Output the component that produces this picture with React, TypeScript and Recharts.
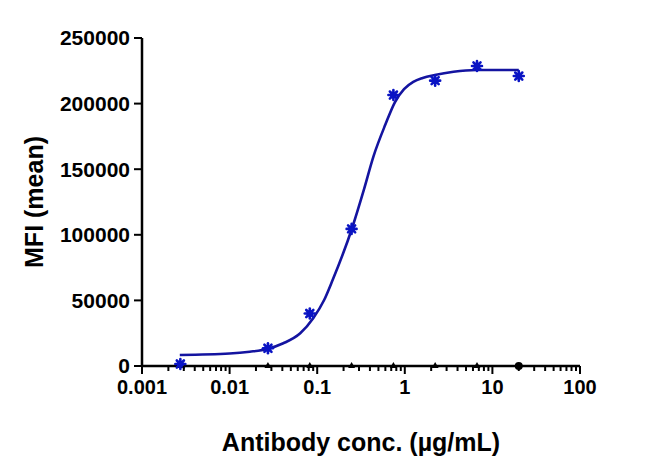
import React from 'react';
import {
  ComposedChart,
  Line,
  Scatter,
  XAxis,
  YAxis,
  Label,
} from 'recharts';

// measured points (3-fold dilutions from 20 µg/mL)
const conc = [0.00274, 0.0274, 0.0823, 0.247, 0.741, 2.22, 6.67, 20];
const mfi = [1500, 13500, 40000, 104500, 206500, 217500, 228700, 221000];
// isotype / blank control, all on the baseline
const controlMfi = [0, 0, 0, 0, 0, 0, 0, 0];

// fitted curve
const fitConc = [0.0027, 0.01, 0.017, 0.027, 0.041, 0.064, 0.09, 0.12, 0.15, 0.25, 0.34, 0.44, 0.6, 0.77, 0.98, 1.25, 1.6, 2.2, 3.6, 6.6, 20];
const fitMfi = [8400, 9500, 10900, 13000, 17300, 24900, 36400, 50300, 65500, 105000, 134000, 160000, 184000, 201000, 211000, 216500, 219500, 221800, 224300, 225600, 225600];

const majorTicks = [0.001, 0.01, 0.1, 1, 10, 100];
const minorSteps = [2, 3, 4, 5, 6, 7, 8, 9];
const yTicks = [0, 50000, 100000, 150000, 200000, 250000];

const FONT = '"Liberation Sans", Arial, sans-serif';
const TICK_SIZE = 8;
const TICK_MARGIN = 6;

const xTicks: number[] = [];
majorTicks.forEach((t, i) => {
  xTicks.push(t);
  if (i < majorTicks.length - 1) minorSteps.forEach(m => xTicks.push(+(t * m).toPrecision(3)));
});

const points = conc.map((c, i) => ({ x: c, y: mfi[i] }));
const control = conc.map((c, i) => ({ x: c, y: controlMfi[i], last: i === conc.length - 1 }));
const fit = fitConc.map((c, i) => ({ x: c, y: fitMfi[i] }));

const isMajor = (v: number) => {
  const l = Math.log10(v);
  return Math.abs(l - Math.round(l)) < 1e-6;
};

const fmtX = (v: number) => {
  const e = Math.round(Math.log10(v));
  return e < 0 ? v.toFixed(-e) : String(v);
};

const XTick = ({ x, y, payload }: any) => {
  const v = payload.value;
  const axisY = y - TICK_SIZE - TICK_MARGIN;
  const major = isMajor(v);
  return (
    <g>
      <line x1={x} x2={x} y1={axisY} y2={axisY + (major ? 8 : 5)} stroke="#000" strokeWidth={2} />
      {major && (
        <text x={x} y={y} dy="0.71em" textAnchor="middle" fontFamily={FONT} fontWeight="bold" fontSize={20} fill="#000">
          {fmtX(v)}
        </text>
      )}
    </g>
  );
};

const Asterisk = ({ cx, cy }: any) => {
  const r = 5;
  const d = r * 0.7071;
  return (
    <g stroke="#0a14c4" strokeWidth={2.6} strokeLinecap="round">
      <circle cx={cx} cy={cy} r={3.4} fill="#0a14c4" stroke="none" />
      <line x1={cx - r} y1={cy} x2={cx + r} y2={cy} />
      <line x1={cx} y1={cy - r} x2={cx} y2={cy + r} />
      <line x1={cx - d} y1={cy - d} x2={cx + d} y2={cy + d} />
      <line x1={cx - d} y1={cy + d} x2={cx + d} y2={cy - d} />
    </g>
  );
};

const ControlMark = ({ cx, cy, payload }: any) => {
  if (payload.last) return <circle cx={cx} cy={cy} r={4} fill="#000" />;
  return <path d={`M${cx},${cy - 4} L${cx + 3.5},${cy + 2} L${cx - 3.5},${cy + 2} Z`} fill="#000" />;
};

const YTitle = ({ viewBox }: any) => (
  <text
    x={43}
    y={viewBox.y + viewBox.height / 2}
    transform={`rotate(-90, 43, ${viewBox.y + viewBox.height / 2})`}
    textAnchor="middle"
    fontFamily={FONT}
    fontWeight="bold"
    fontSize={25}
    fill="#000"
  >
    MFI (mean)
  </text>
);

const XTitle = ({ viewBox }: any) => (
  <text
    x={viewBox.x + viewBox.width / 2}
    y={451}
    textAnchor="middle"
    fontFamily={FONT}
    fontWeight="bold"
    fontSize={25}
    fill="#000"
  >
    Antibody conc. (µg/mL)
  </text>
);

export default function App() {
  return (
    <div style={{ position: 'absolute', left: 0, top: 0, background: '#fff' }}>
      <ComposedChart width={650} height={476} margin={{ top: 38, right: 70, bottom: 0, left: 0 }}>
        <XAxis
          type="number"
          dataKey="x"
          scale="log"
          domain={[0.001, 100]}
          ticks={xTicks}
          interval={0}
          height={110}
          tickSize={TICK_SIZE}
          tickMargin={TICK_MARGIN}
          tickLine={false}
          axisLine={{ stroke: '#000', strokeWidth: 2.5 }}
          tick={<XTick />}
          allowDataOverflow
        >
          <Label content={<XTitle />} />
        </XAxis>
        <YAxis
          type="number"
          dataKey="y"
          domain={[0, 250000]}
          ticks={yTicks}
          interval={0}
          width={142}
          tickSize={8}
          tickMargin={4}
          tickLine={{ stroke: '#000', strokeWidth: 2 }}
          axisLine={{ stroke: '#000', strokeWidth: 2.5 }}
          tick={{ fill: '#000', fontFamily: FONT, fontWeight: 'bold', fontSize: 21 }}
        >
          <Label content={<YTitle />} />
        </YAxis>
        <Line
          data={fit}
          dataKey="y"
          type="monotone"
          stroke="#1414a0"
          strokeWidth={2.6}
          dot={false}
          activeDot={false}
          isAnimationActive={false}
        />
        <Scatter data={control} dataKey="y" shape={<ControlMark />} isAnimationActive={false} />
        <Scatter data={points} dataKey="y" shape={<Asterisk />} isAnimationActive={false} />
      </ComposedChart>
    </div>
  );
}
